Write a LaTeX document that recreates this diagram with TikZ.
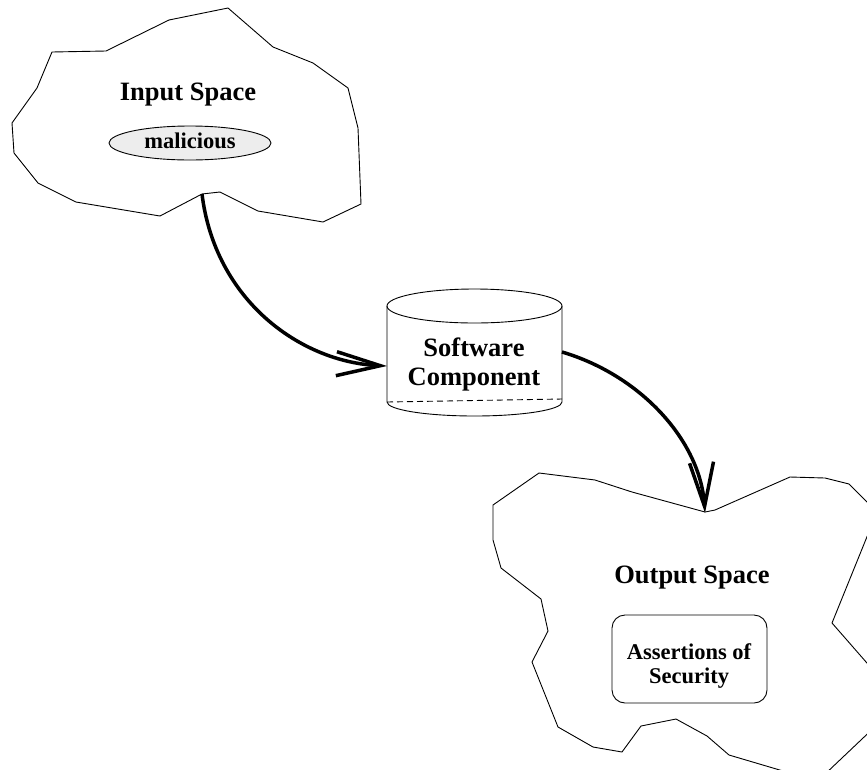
\documentclass[tikz,border=0pt]{standalone}
\usepackage{fontspec}
\setmainfont{Liberation Serif}
\usetikzlibrary{arrows.meta,shapes.geometric}
\tikzset{
  outline/.style={line width=0.9pt, line join=round},
  title/.style={font=\bfseries\fontsize{26.5}{30}\selectfont, inner sep=0pt, anchor=base},
  label/.style={font=\bfseries\fontsize{22.5}{24}\selectfont, inner sep=0pt},
  flow/.style={line width=3.5pt, -{Straight Barb[length=44pt,width=24pt]}},
}
\begin{document}
\begin{tikzpicture}[x=1pt,y=-1pt]
\path[use as bounding box] (0,0) rectangle (867,769);
\clip (0,0) rectangle (867,769);

% input space outline
\draw[outline] (228,8) -- (169,20) -- (106,51) -- (52,52) -- (37,88) -- (12,123)
  -- (14,153) -- (38,183) -- (76,202) -- (160,216) -- (202,194) -- (220,192)
  -- (258,211) -- (323,222) -- (361,204) -- (358,128) -- (348,88) -- (313,63)
  -- (273,47) -- cycle;
\coordinate (inlet) at (202,194);
\node[title] (inspace) at (188,100) {Input Space};
\node[draw, ellipse, outline, fill=black!7, minimum width=162pt, minimum height=34pt,
      inner sep=0pt] (mal) at (190,143) {};
\node[label, anchor=base] (maltext) at (190,148) {malicious};

% software component cylinder
\draw[outline] (474.5,306) ellipse [x radius=87.5, y radius=17];
\draw[outline] (387,306) -- (387,402) arc[start angle=180, end angle=0, x radius=87.5, y radius=14] -- (562,306);
\draw[outline, dash pattern=on 6pt off 4pt] (387,402) -- (562,399);
\node[font=\bfseries\fontsize{26.5}{29}\selectfont, align=center, inner sep=0pt] (sw) at (474,364) {Software\\Component};
\coordinate (swin) at (387,366);
\coordinate (swout) at (562,352);

% output space outline
\draw[outline] (539,473) -- (595,480) -- (632,492) -- (705,512) -- (715,510)
  -- (790,477) -- (825,478) -- (849,484) -- (877,512) -- (832,623) -- (901,702)
  -- (823,776) -- (800,776) -- (729,755) -- (707,736) -- (676,719) -- (641,726)
  -- (622,752) -- (593,747) -- (558,727) -- (532,662) -- (548,631) -- (541,599)
  -- (501,568) -- (493,540) -- (493,505) -- cycle;
\coordinate (outlet) at (705,513);
\node[title] (outspace) at (692,583) {Output Space};
\node[draw, outline, rounded corners=13pt, minimum width=155pt, minimum height=88pt]
  (assert) at (689.5,659) {};
\node[label, align=center] (asserttext) at (689,666) {Assertions of\\Security};

% data flow
\draw[flow] (inlet) .. controls (215,300) and (300,362) .. (swin);
\draw[flow] (swout) .. controls (640,375) and (700,440) .. (outlet);
\end{tikzpicture}
\end{document}
